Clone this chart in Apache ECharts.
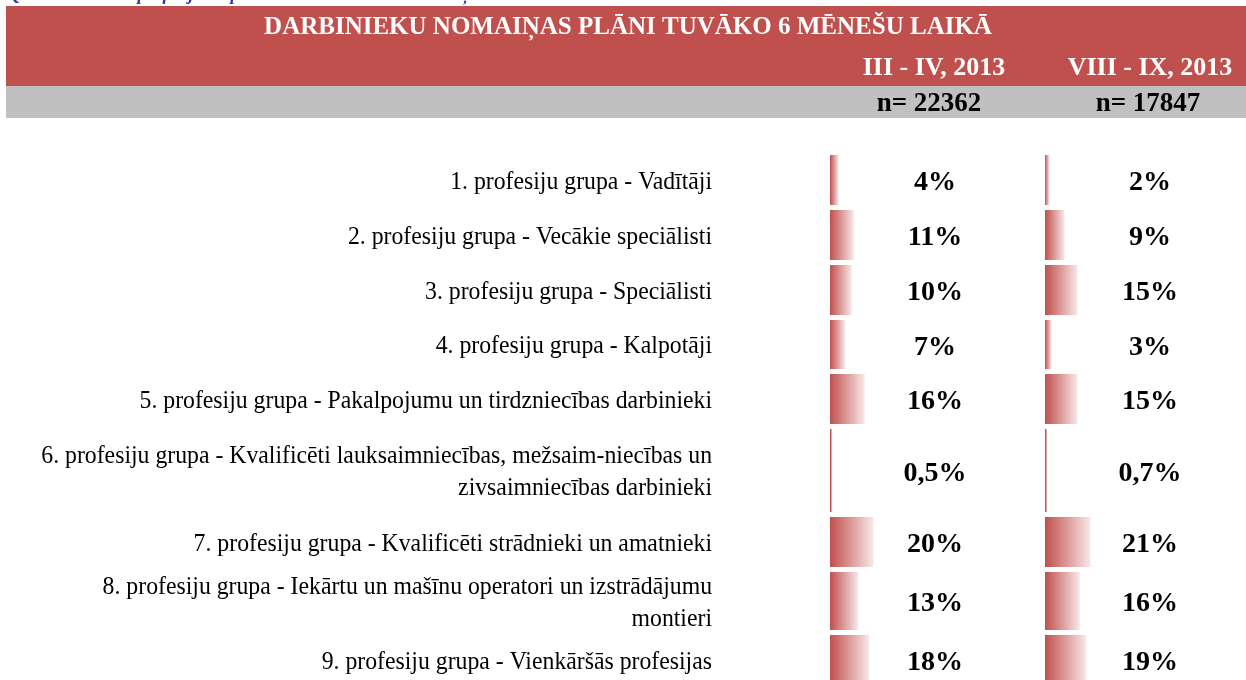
<!DOCTYPE html>
<html><head><meta charset="utf-8">
<script src="https://cdn.jsdelivr.net/npm/echarts@6/dist/echarts.min.js"></script>
<style>html,body{margin:0;padding:0;background:#fff}#c{width:1246px;height:680px}</style>
</head><body><div id="c"></div>
<script>
// ---- data ----
const chartTitle = 'DARBINIEKU NOMAIŅAS PLĀNI TUVĀKO 6 MĒNEŠU LAIKĀ';
const questionText = 'Q 30. Kādās tieši profesijās ir plānots veikt darbinieku nomaiņu tuvāko 6 mēnešu laikā?';
const periods = ['III - IV, 2013', 'VIII - IX, 2013'];
const sampleSizes = ['n= 22362', 'n= 17847'];
const categories = [
  '1. profesiju grupa - Vadītāji',
  '2. profesiju grupa - Vecākie speciālisti',
  '3. profesiju grupa - Speciālisti',
  '4. profesiju grupa - Kalpotāji',
  '5. profesiju grupa - Pakalpojumu un tirdzniecības darbinieki',
  '6. profesiju grupa - Kvalificēti lauksaimniecības, mežsaim-niecības un\nzivsaimniecības darbinieki',
  '7. profesiju grupa - Kvalificēti strādnieki un amatnieki',
  '8. profesiju grupa - Iekārtu un mašīnu operatori un izstrādājumu\nmontieri',
  '9. profesiju grupa - Vienkāršās profesijas'
];
const shareMarApr = [4, 11, 10, 7, 16, 0.5, 20, 13, 18];
const shareAugSep = [2, 9, 15, 3, 15, 0.7, 21, 16, 19];

// ---- layout (not data) ----
const rowHeights = [55, 55, 55, 54, 55, 88, 55, 63, 55];
const rowStart = [];
let acc = 0;
rowHeights.forEach(h => { rowStart.push(acc); acc += h; });
const totalH = acc;
const GAP = 5;
const LABEL_OFFSET = 105;
const CAT_RIGHT = 712;
const SERIF = '"Liberation Serif", "Times New Roman", serif';

const chart = echarts.init(document.getElementById('c'), null, {renderer: 'canvas'});

function fmt(v) { return String(v).replace('.', ',') + '%'; }

const barFill = new echarts.graphic.LinearGradient(0, 0, 1, 0, [
  {offset: 0, color: '#C0504D'},
  {offset: 1, color: '#F8E8E8'}
]);

function makeRender(showCats) {
  return function (params, api) {
    const v = api.value(0);
    const i = api.value(1);
    const top = rowStart[i], h = rowHeights[i];
    const p0 = api.coord([0, top + GAP / 2]);
    const p1 = api.coord([v, top + h - GAP / 2]);
    const mid = api.coord([0, top + h / 2]);
    const children = [
      {type: 'rect', shape: {x: p0[0], y: p0[1], width: Math.max(p1[0] - p0[0], 1.5), height: p1[1] - p0[1]},
       style: {fill: v < 1 ? '#C0504D' : barFill}},
      {type: 'text', x: p0[0] + LABEL_OFFSET, y: mid[1] + 3,
       style: {text: fmt(v), fontFamily: SERIF, fontWeight: 'bold', fontSize: 28, fill: '#000', align: 'center', verticalAlign: 'middle'}}
    ];
    if (showCats) {
      children.push({type: 'text', x: CAT_RIGHT, y: mid[1] + 2, scaleX: 0.95,
        style: {text: categories[i], fontFamily: SERIF, fontSize: 25, lineHeight: 32, fill: '#000', align: 'right', verticalAlign: 'middle'}});
    }
    return {type: 'group', children};
  };
}

const option = {
  animation: false,
  backgroundColor: '#fff',
  grid: [
    {left: 830, top: 152.5, width: 217, height: totalH, outerBoundsMode: 'none', containLabel: false},
    {left: 1045, top: 152.5, width: 217, height: totalH, outerBoundsMode: 'none', containLabel: false}
  ],
  xAxis: [
    {type: 'value', gridIndex: 0, min: 0, max: 100, show: false},
    {type: 'value', gridIndex: 1, min: 0, max: 100, show: false}
  ],
  yAxis: [
    {type: 'value', gridIndex: 0, min: 0, max: totalH, inverse: true, show: false},
    {type: 'value', gridIndex: 1, min: 0, max: totalH, inverse: true, show: false}
  ],
  graphic: [
    {type: 'text', left: 8, top: -14, z: 1,
     style: {text: questionText, fontFamily: SERIF, fontStyle: 'italic', fontWeight: 'bold', fontSize: 18, fill: '#3333AA'}},
    {type: 'rect', shape: {x: 6, y: 6, width: 1240, height: 80}, style: {fill: '#C0504D'}, z: 2},
    {type: 'rect', shape: {x: 6, y: 86, width: 1240, height: 32}, style: {fill: '#C0C0C0'}, z: 2},
    {type: 'text', x: 628, y: 28, z: 3,
     style: {text: chartTitle, fontFamily: SERIF, fontWeight: 'bold', fontSize: 25, fill: '#fff', align: 'center', verticalAlign: 'middle'}},
    {type: 'text', x: 934, y: 68, z: 3,
     style: {text: periods[0], fontFamily: SERIF, fontWeight: 'bold', fontSize: 26, fill: '#fff', align: 'center', verticalAlign: 'middle'}},
    {type: 'text', x: 1150, y: 68, z: 3,
     style: {text: periods[1], fontFamily: SERIF, fontWeight: 'bold', fontSize: 26, fill: '#fff', align: 'center', verticalAlign: 'middle'}},
    {type: 'text', x: 929, y: 104, z: 3,
     style: {text: sampleSizes[0], fontFamily: SERIF, fontWeight: 'bold', fontSize: 27, fill: '#000', align: 'center', verticalAlign: 'middle'}},
    {type: 'text', x: 1148, y: 104, z: 3,
     style: {text: sampleSizes[1], fontFamily: SERIF, fontWeight: 'bold', fontSize: 27, fill: '#000', align: 'center', verticalAlign: 'middle'}}
  ],
  series: [
    {type: 'custom', xAxisIndex: 0, yAxisIndex: 0, renderItem: makeRender(true),
     data: shareMarApr.map((v, i) => [v, i]), clip: false},
    {type: 'custom', xAxisIndex: 1, yAxisIndex: 1, renderItem: makeRender(false),
     data: shareAugSep.map((v, i) => [v, i]), clip: false}
  ]
};
chart.setOption(option);
</script>
</body></html>
